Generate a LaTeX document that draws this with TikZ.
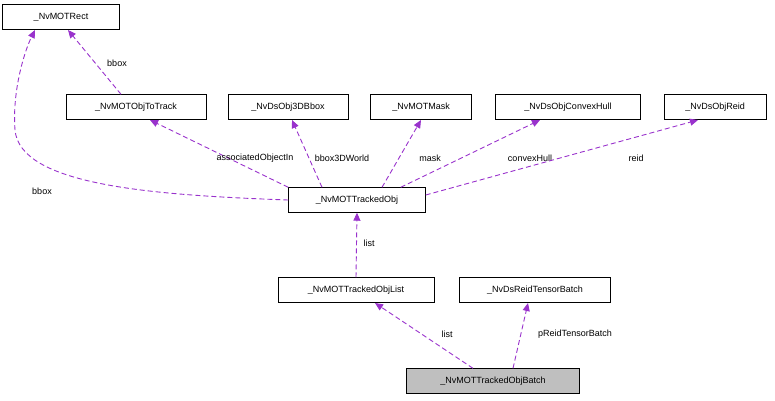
\documentclass[tikz,border=0pt]{standalone}
\usepackage{fontspec}
\setmainfont{Liberation Sans}
\usetikzlibrary{arrows.meta}
\definecolor{edgeColor}{RGB}{153,50,204}
\tikzset{
  classBox/.style = {draw=black, fill=white, minimum height=25pt, inner xsep=4pt,
    font=\fontsize{9}{10}\selectfont},
  useEdge/.style = {draw=edgeColor, line width=0.9pt, dash pattern=on 5pt off 3pt,
    -{Triangle[length=8pt,width=7pt,fill=edgeColor]}},
  edgeText/.style = {font=\fontsize{9}{10}\selectfont, inner sep=1pt}
}
\begin{document}
\begin{tikzpicture}[x=1pt, y=-1pt]
  \useasboundingbox (0,0) rectangle (775,400);
  % classes
  \node [classBox, minimum width=117pt] (rect) at (61,17) {\_NvMOTRect};
  \node [classBox, minimum width=140pt] (toTrack) at (136,107) {\_NvMOTObjToTrack};
  \node [classBox, minimum width=120pt] (bbox3D) at (288,107) {\_NvDsObj3DBbox};
  \node [classBox, minimum width=101pt] (mask) at (421,107) {\_NvMOTMask};
  \node [classBox, minimum width=145pt] (hull) at (568,107) {\_NvDsObjConvexHull};
  \node [classBox, minimum width=102pt] (reid) at (715,107) {\_NvDsObjReid};
  \node [classBox, minimum width=137pt] (tracked) at (357,200) {\_NvMOTTrackedObj};
  \node [classBox, minimum width=156pt] (list) at (356,290) {\_NvMOTTrackedObjList};
  \node [classBox, minimum width=151pt] (tensor) at (535,290) {\_NvDsReidTensorBatch};
  \node [classBox, minimum width=173pt, fill=black!25] (batch) at (493,381) {\_NvMOTTrackedObjBatch};
  % members
  \coordinate (rectIn) at (35,30);
  \draw [useEdge] (tracked.west) .. controls (150,195) and (20,185) .. (15,130)
    .. controls (12,90) and (25,50) .. (rectIn);
  \node [edgeText] (lblRect) at (42,191) {bbox};
  \coordinate (rectIn2) at (68,30);
  \draw [useEdge] (toTrack.north) ++(-15,0) -- (rectIn2);
  \node [edgeText] (lblBox) at (117,63) {bbox};
  \draw [useEdge] (tracked.north west) -- (150,120);
  \node [edgeText] (lblAssoc) at (255,158) {associatedObjectIn};
  \draw [useEdge] (tracked.north) ++(-35,0) -- (292,120);
  \node [edgeText] (lbl3D) at (342,158) {bbox3DWorld};
  \draw [useEdge] (tracked.north) ++(25,0) -- (421,120);
  \node [edgeText] (lblMask) at (430,158) {mask};
  \draw [useEdge] (tracked.north east) ++(-25,0) -- (540,120);
  \node [edgeText] (lblHull) at (530,158) {convexHull};
  \draw [useEdge] (tracked.east) ++(0,-5) -- (698,120);
  \node [edgeText] (lblReid) at (636,158) {reid};
  \draw [useEdge] (list.north) -- (tracked.south);
  \node [edgeText] (lblList) at (369,243) {list};
  \draw [useEdge] (batch.north) ++(-20,0) -- (375,303);
  \node [edgeText] (lblBatch) at (447,334) {list};
  \draw [useEdge] (batch.north) ++(20,0) -- (528,303);
  \node [edgeText] (lblTensor) at (575,334) {pReidTensorBatch};
\end{tikzpicture}
\end{document}
